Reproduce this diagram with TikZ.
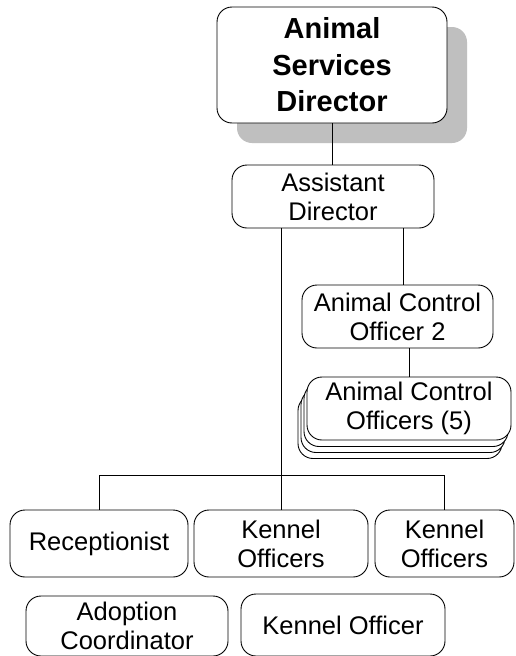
\documentclass[tikz,border=0pt]{standalone}
\usepackage{fontspec}
\setmainfont{Liberation Sans}
\usetikzlibrary{shadows}
\begin{document}
\begin{tikzpicture}[x=1pt,y=-1pt,
  post/.style={draw, line width=0.9pt, rounded corners=15pt, fill=white, align=center, inner sep=0pt,
    font=\fontsize{25.5}{29}\selectfont},
  headpost/.style={post, font=\bfseries\fontsize{29}{36.5}\selectfont,
    drop shadow={shadow xshift=20pt, shadow yshift=-20pt, fill=black!25, opacity=1, draw=none}},
  link/.style={draw, line width=0.9pt}]
\useasboundingbox (0,0) rectangle (515,656);
\clip (0,0) rectangle (515,656);
\fill[white] (0,0) rectangle (515,656);

% director and assistant
\node[headpost, minimum width=230pt, minimum height=116pt] (dir) at (332,65)
  {Animal\\Services\\Director};
\node[post, minimum width=202pt, minimum height=63pt] (asst) at (333,196.5)
  {Assistant\\Director};

% animal control branch
\node[post, minimum width=191pt, minimum height=63pt] (aco2) at (397.5,316.5)
  {Animal Control\\Officer 2};
\node[post, minimum width=204pt, minimum height=63pt] (acoC) at (400,427) {};
\node[post, minimum width=204pt, minimum height=63pt] (acoB) at (403,421) {};
\node[post, minimum width=204pt, minimum height=63pt] (acoA) at (406,415) {};
\node[post, minimum width=204pt, minimum height=63pt] (acos) at (409,408.5)
  {Animal Control\\Officers (5)};

% kennel and front desk
\node[post, minimum width=178pt, minimum height=67pt] (rec) at (99,543.5) {Receptionist};
\node[post, minimum width=174pt, minimum height=67pt] (ken1) at (281,543.5) {Kennel\\Officers};
\node[post, minimum width=139pt, minimum height=67pt] (ken2) at (444.5,543.5) {Kennel\\Officers};
\node[post, minimum width=202pt, minimum height=60pt] (adopt) at (127,626) {Adoption\\Coordinator};
\node[post, minimum width=204pt, minimum height=62pt] (ken3) at (343,625) {Kennel Officer};

% connectors
\coordinate (bar) at (0,475);
\coordinate (rdrop) at (403,0);
\draw[link] (dir.south) -- (dir.south |- asst.north);
\draw[link] (ken1.north |- asst.south) -- (ken1.north);
\draw[link] (rdrop |- asst.south) -- (rdrop |- aco2.north);
\draw[link] (acos.north |- aco2.south) -- (acos.north);
\draw[link] (rec.north) -- (rec.north |- bar) -- (ken2.north |- bar) -- (ken2.north);
\end{tikzpicture}
\end{document}
